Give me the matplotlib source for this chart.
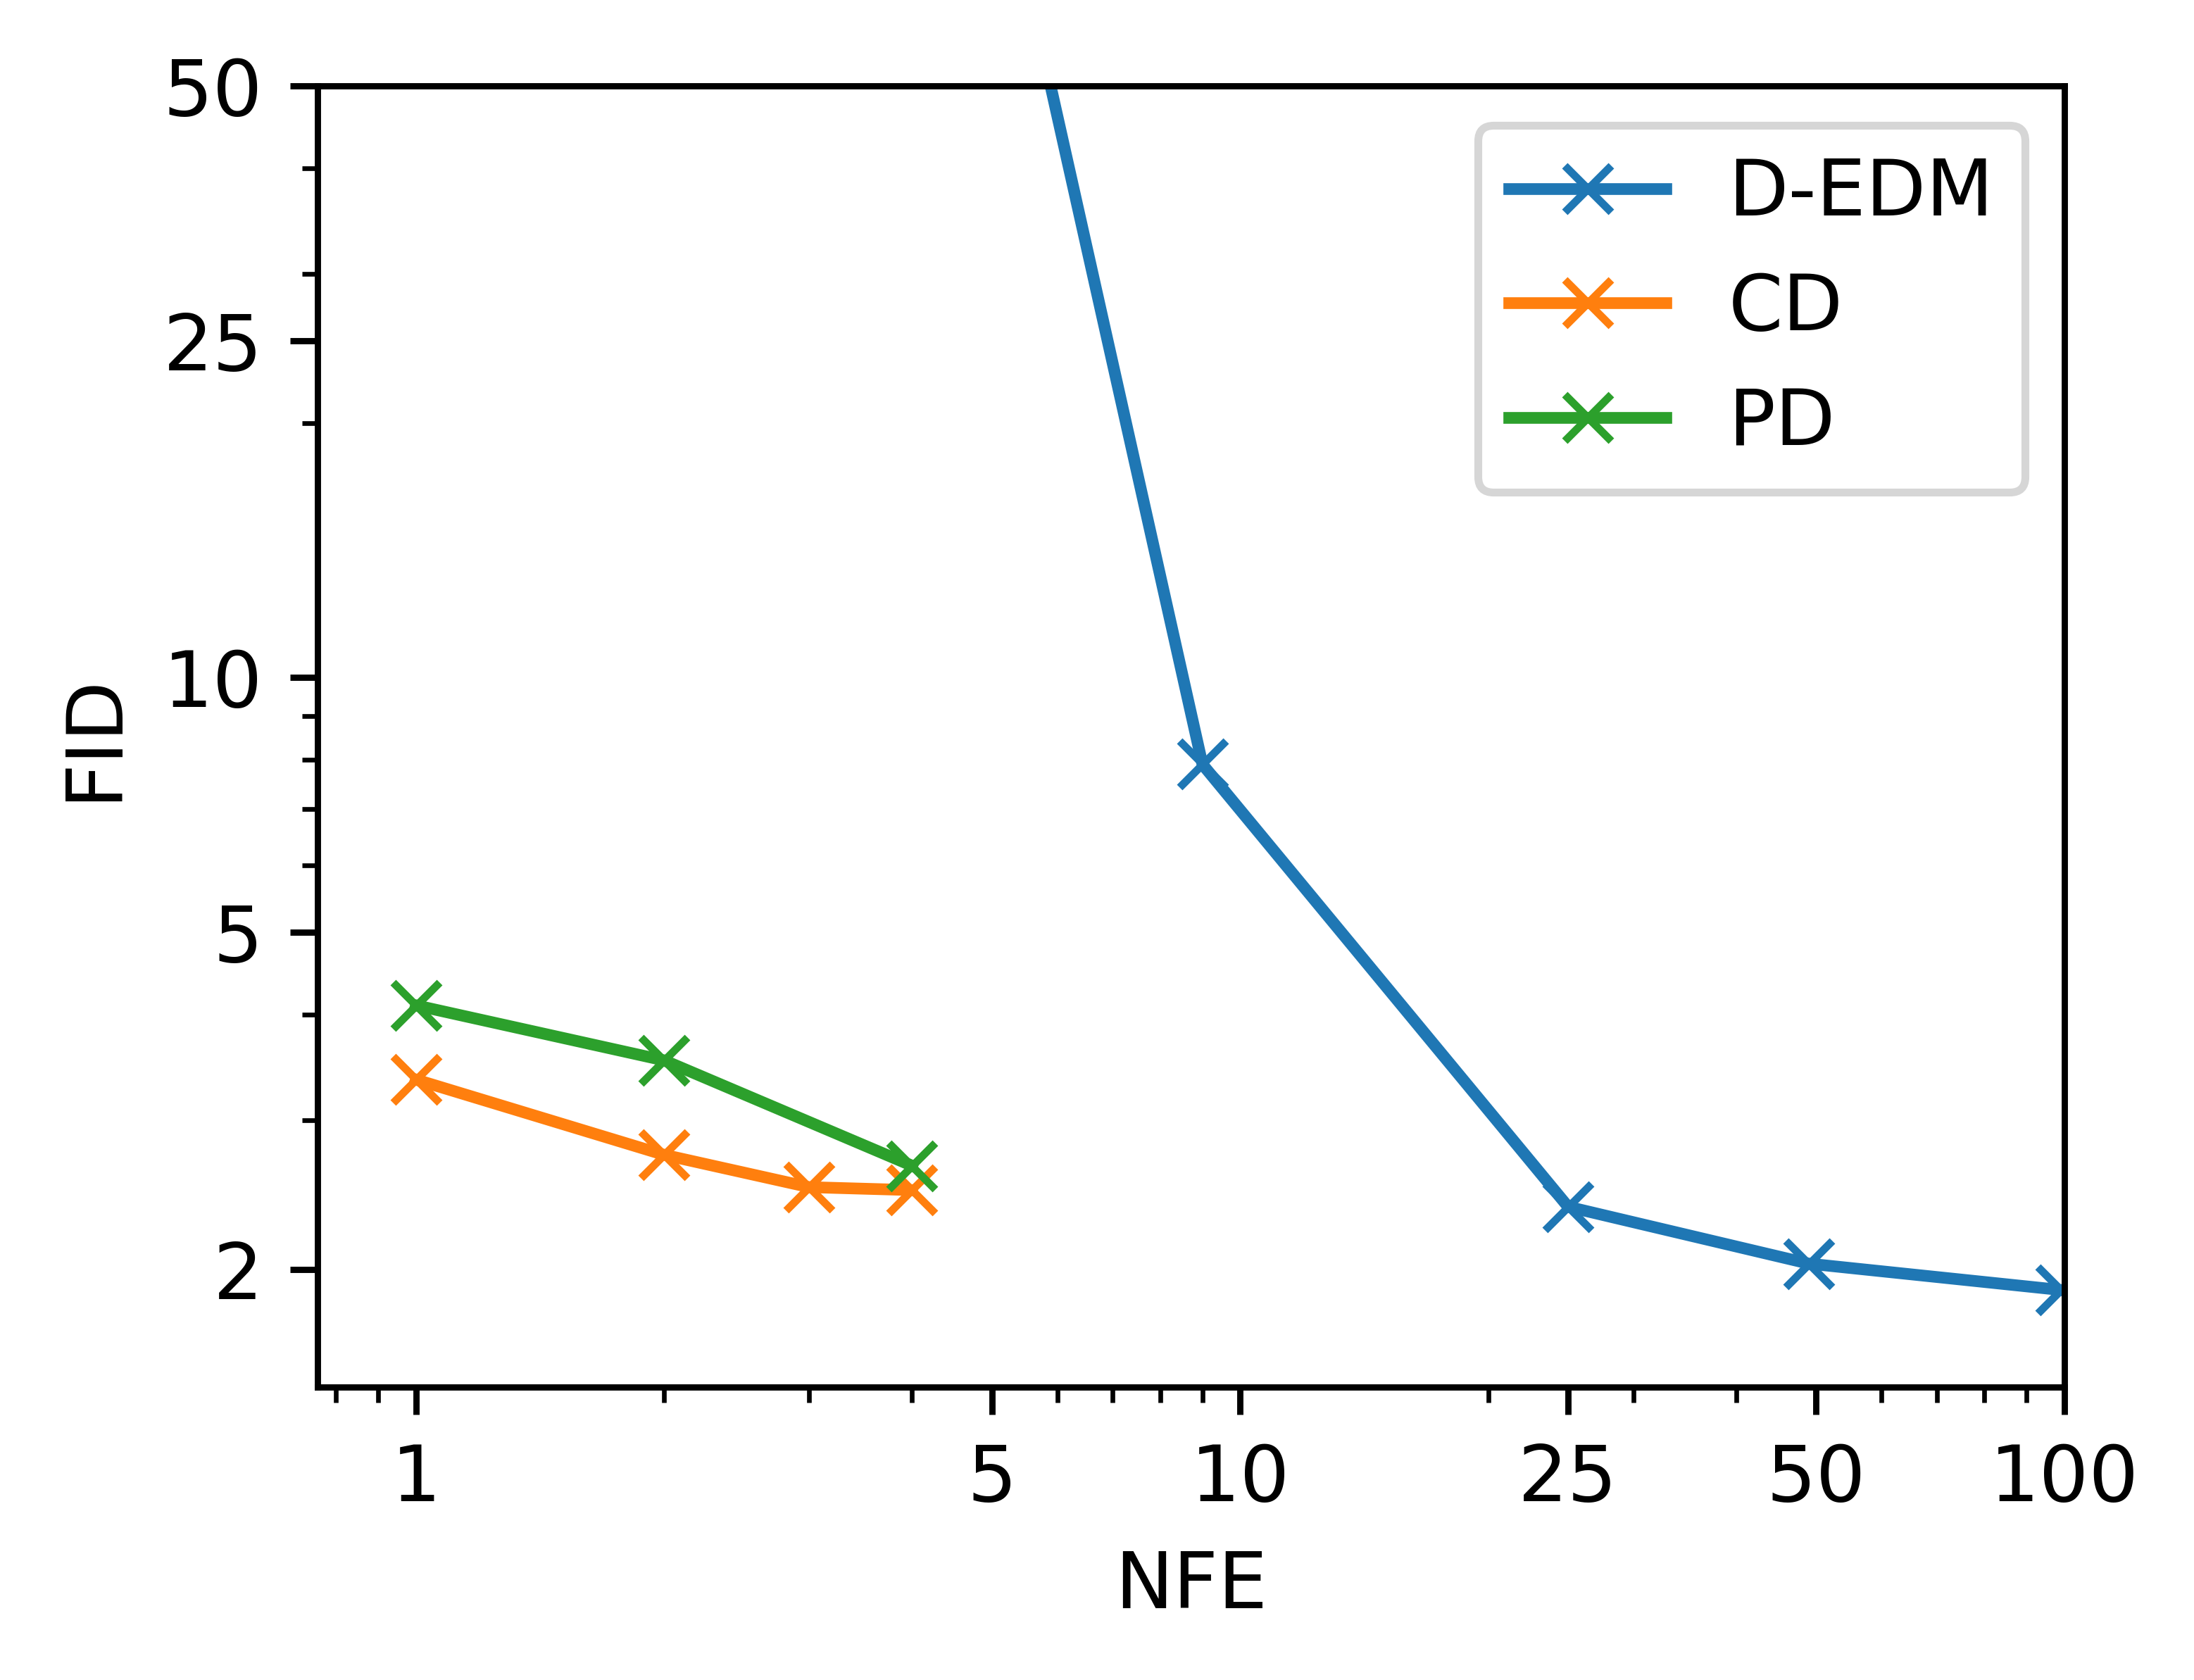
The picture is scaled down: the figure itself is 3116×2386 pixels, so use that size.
import matplotlib
matplotlib.use("Agg")
import matplotlib.pyplot as plt
from matplotlib.ticker import ScalarFormatter, NullFormatter

# values
edm_nfe = [5, 9, 25, 49, 99]
edm_fid = [102, 7.9, 2.37, 2.03, 1.89]

cd_nfe = [1, 2, 3, 4]
cd_fid = [3.35, 2.73, 2.50, 2.48]

pd_nfe = [1, 2, 4]
pd_fid = [4.10, 3.53, 2.65]

x_ticks = [1, 5, 10, 25, 50, 100]
y_ticks = [2, 5, 10, 25, 50]

fig = plt.figure(figsize=(3116 / 800, 2386 / 800), dpi=800)
ax = fig.add_axes([0.1448, 0.1742, 0.7961, 0.7745])

ax.plot(edm_nfe, edm_fid, marker="x", label="D-EDM")
ax.plot(cd_nfe, cd_fid, marker="x", label="CD")
ax.plot(pd_nfe, pd_fid, marker="x", label="PD")

ax.set_xscale("log")
ax.set_yscale("log")
ax.set_xlim(0.76, 100)
ax.set_ylim(1.45, 50)

ax.set_xticks(x_ticks)
ax.set_yticks(y_ticks)
ax.xaxis.set_major_formatter(ScalarFormatter())
ax.yaxis.set_major_formatter(ScalarFormatter())
ax.xaxis.set_minor_formatter(NullFormatter())
ax.yaxis.set_minor_formatter(NullFormatter())

ax.set_xlabel("NFE")
ax.set_ylabel("FID")
ax.legend(loc="upper right")

fig.savefig("out.png", dpi=800)
